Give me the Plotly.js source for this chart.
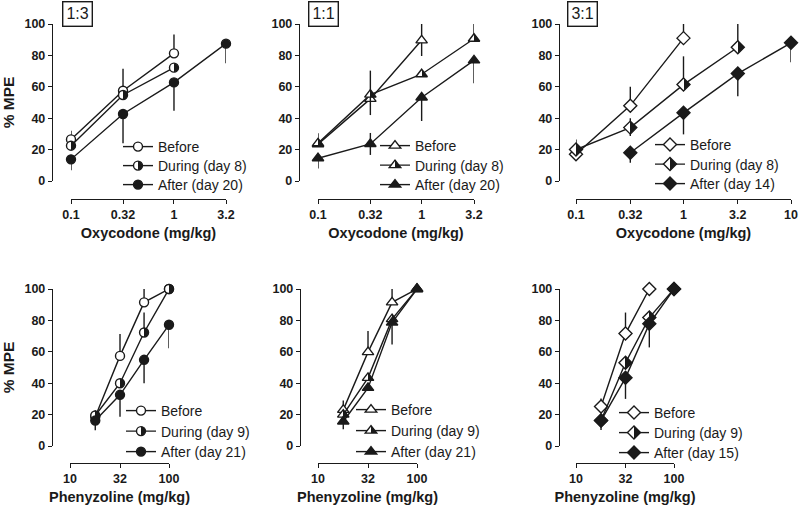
<!DOCTYPE html>
<html>
<head>
<meta charset="utf-8">
<script src="https://cdn.plot.ly/plotly-3.0.1.min.js"></script>
<style>
  body { margin: 0; background: #fff; }
  #chart { width: 800px; height: 508px; }
</style>
</head>
<body>
<div id="chart"></div>
<script>
// doses
var oxyTicks = [0.1, 0.32, 1, 3.2, 10];
var oxyTickText = ['0.1', '0.32', '1', '3.2', '10'];
var phenTicks = [10, 32, 100];
var phenTickText = ['10', '32', '100'];
var oxyDoses = [0.1, 0.32, 1, 3.2];
var oxyDoses31 = [0.1, 0.32, 1, 3.2, 10];
var phenDoses = [18, 32, 56, 100];

// 1:3 oxycodone
var before13 = [26.5, 57.5, 81.3];
var before13Up = [5.5, 14, 12];
var during13 = [22.5, 54.8, 72.2];
var after13 = [13.8, 42.7, 62.8, 87.5];
var after13Down = [7, 18.7, 18, 12.5];

// 1:1 oxycodone
var before11 = [23.4, 52.3, 89.6];
var before11Up = [7, 18, 10.4];
var before11Down = [0, 0, 10];
var during11 = [24, 55, 68, 90.6];
var during11Up = [0, 0, 0, 9.4];
var during11Down = [0, 13, 0, 0];
var after11 = [14.5, 23.6, 53.2, 76.8];
var after11Up = [0, 7, 0, 0];
var after11Down = [6.5, 7, 15, 14.5];

// 3:1 oxycodone
var before31 = [17, 48, 91];
var before31Up = [9.5, 12, 9];
var during31 = [20, 34, 61.4, 85.2];
var during31Up = [0, 6, 18, 14.8];
var during31Down = [0, 5.4, 0, 0];
var after31 = [18, 43.4, 68.4, 88];
var after31Down = [6.4, 13.7, 14.4, 12.4];

// 1:3 phenyzoline
var before13p = [18.7, 57.4, 91.5, 100];
var before13pUp = [4, 14, 8.5, 0];
var during13p = [19.4, 40, 72.3, 100];
var during13pUp = [0, 0, 12.7, 0];
var after13p = [16.2, 32.6, 54.9, 77.2];
var after13pDown = [6.2, 14, 15, 15];

// 1:1 phenyzoline
var before11p = [23, 59.8, 91.5, 100];
var before11pUp = [6, 13.5, 8.5, 0];
var during11p = [20, 43.4, 80.8, 100];
var after11p = [15.6, 37, 78.6, 100];
var after11pDown = [5, 0, 14, 0];

// 3:1 phenyzoline
var before31p = [25.2, 71.6, 100];
var before31pUp = [5, 13.4, 0];
var during31p = [16.2, 53, 81.8, 100];
var after31p = [16.2, 43.4, 77.8, 100];
var after31pDown = [6, 13.4, 15, 0];

var W = 800, H = 508;
var ink = '#1a1a1a';
var fontFam = 'Liberation Sans, Arial, sans-serif';

function zeros(n) {
    var a = [];
    for (var i = 0; i < n; i++) a.push(0);
    return a;
}

var legendCount = 0;

function makeTrace(x, y, up, down, name, symbol, fill, n) {
    var marker = {
        symbol: symbol,
        size: symbol == 'circle' ? 9 : 10,
        color: fill == 'open' ? 'white' : ink,
        line: { color: ink, width: 1.4 }
    };
    if (fill == 'half') {
        marker.color = 'white';
        marker.gradient = { type: 'horizontal', color: ink };
    }
    legendCount++;
    return {
        x: x.slice(0, y.length),
        y: y,
        name: name,
        mode: 'lines+markers',
        line: { color: ink, width: 1.4 },
        marker: marker,
        cliponaxis: false,
        error_y: {
            type: 'data',
            symmetric: false,
            array: up || zeros(y.length),
            arrayminus: down || zeros(y.length),
            width: 0,
            thickness: 1.4,
            color: ink
        },
        xaxis: 'x' + n,
        yaxis: 'y' + n,
        // one legend per entry so the rows can be placed exactly
        legend: legendCount == 1 ? 'legend' : 'legend' + legendCount
    };
}

var data = [
    makeTrace(oxyDoses, before13, before13Up, null, 'Before', 'circle', 'open', 1),
    makeTrace(oxyDoses, during13, null, null, 'During (day 8)', 'circle', 'half', 1),
    makeTrace(oxyDoses, after13, null, after13Down, 'After (day 20)', 'circle', 'full', 1),

    makeTrace(oxyDoses, before11, before11Up, before11Down, 'Before', 'triangle-up', 'open', 2),
    makeTrace(oxyDoses, during11, during11Up, during11Down, 'During (day 8)', 'triangle-up', 'half', 2),
    makeTrace(oxyDoses, after11, after11Up, after11Down, 'After (day 20)', 'triangle-up', 'full', 2),

    makeTrace(oxyDoses31, before31, before31Up, null, 'Before', 'diamond', 'open', 3),
    makeTrace(oxyDoses31, during31, during31Up, during31Down, 'During (day 8)', 'diamond', 'half', 3),
    makeTrace(oxyDoses31.slice(1), after31, null, after31Down, 'After (day 14)', 'diamond', 'full', 3),

    makeTrace(phenDoses, before13p, before13pUp, null, 'Before', 'circle', 'open', 4),
    makeTrace(phenDoses, during13p, during13pUp, null, 'During (day 9)', 'circle', 'half', 4),
    makeTrace(phenDoses, after13p, null, after13pDown, 'After (day 21)', 'circle', 'full', 4),

    makeTrace(phenDoses, before11p, before11pUp, null, 'Before', 'triangle-up', 'open', 5),
    makeTrace(phenDoses, during11p, null, null, 'During (day 9)', 'triangle-up', 'half', 5),
    makeTrace(phenDoses, after11p, null, after11pDown, 'After (day 21)', 'triangle-up', 'full', 5),

    makeTrace(phenDoses, before31p, before31pUp, null, 'Before', 'diamond', 'open', 6),
    makeTrace(phenDoses, during31p, null, null, 'During (day 9)', 'diamond', 'half', 6),
    makeTrace(phenDoses, after31p, null, after31pDown, 'After (day 15)', 'diamond', 'full', 6)
];

// panel boxes in pixels: x0, x1 (plot), yTop, yBottom, y axis x, x axis y
var panels = [
    { x0: 71, x1: 226, top: 24, bot: 181, yax: 52, xax: 199, range: [0.1, 3.2], ticks: oxyTicks, text: oxyTickText, title: 'Oxycodone (mg/kg)', ytitle: true },
    { x0: 318, x1: 474, top: 24, bot: 181, yax: 299, xax: 199, range: [0.1, 3.2], ticks: oxyTicks, text: oxyTickText, title: 'Oxycodone (mg/kg)' },
    { x0: 576, x1: 791, top: 24, bot: 181, yax: 559, xax: 199, range: [0.1, 10], ticks: oxyTicks, text: oxyTickText, title: 'Oxycodone (mg/kg)' },
    { x0: 70, x1: 169, top: 289, bot: 446, yax: 52, xax: 463, range: [10, 100], ticks: phenTicks, text: phenTickText, title: 'Phenyzoline (mg/kg)', ytitle: true },
    { x0: 318, x1: 417, top: 289, bot: 446, yax: 300, xax: 463, range: [10, 100], ticks: phenTicks, text: phenTickText, title: 'Phenyzoline (mg/kg)' },
    { x0: 576, x1: 674, top: 289, bot: 446, yax: 559, xax: 463, range: [10, 100], ticks: phenTicks, text: phenTickText, title: 'Phenyzoline (mg/kg)' }
];

// legend text start x, first row centre y, row step
var legendPos = [
    { x: 160, y: 147, step: 19 }, { x: 417, y: 146, step: 19.5 }, { x: 692, y: 145, step: 19.5 },
    { x: 163, y: 411, step: 20.5 }, { x: 393, y: 410, step: 21 }, { x: 656, y: 413, step: 20 }
];

var tickFont = { family: fontFam, size: 12.5, color: ink, weight: 'bold' };
var titleFont = { family: fontFam, size: 14.5, color: ink, weight: 'bold' };

var layout = {
    width: W,
    height: H,
    margin: { l: 0, r: 0, t: 0, b: 0 },
    paper_bgcolor: 'white',
    plot_bgcolor: 'white',
    showlegend: true,
    font: { family: fontFam, color: ink },
    annotations: []
};

panels.forEach(function (p, i) {
    var n = i + 1;
    var xa = n == 1 ? 'xaxis' : 'xaxis' + n;
    var ya = n == 1 ? 'yaxis' : 'yaxis' + n;
    layout[xa] = {
        type: 'log',
        domain: [p.x0 / W, p.x1 / W],
        range: [Math.log10(p.range[0]), Math.log10(p.range[1])],
        anchor: 'free',
        position: 1 - p.xax / H,
        tickvals: p.ticks,
        ticktext: p.text,
        ticks: 'outside',
        ticklen: 4,
        tickwidth: 1.4,
        tickcolor: ink,
        showline: true,
        linecolor: ink,
        linewidth: 1.4,
        showgrid: false,
        zeroline: false,
        tickfont: tickFont,
        title: { text: p.title, font: titleFont, standoff: 6 }
    };
    layout[ya] = {
        domain: [1 - p.bot / H, 1 - p.top / H],
        range: [0, 100],
        dtick: 20,
        anchor: 'free',
        position: p.yax / W,
        ticks: 'outside',
        ticklen: 4,
        tickwidth: 1.4,
        tickcolor: ink,
        showline: true,
        linecolor: ink,
        linewidth: 1.4,
        showgrid: false,
        zeroline: false,
        tickfont: tickFont,
        title: p.ytitle ? { text: '% MPE', font: { family: fontFam, size: 15.5, color: ink, weight: 'bold' }, standoff: 5 } : { text: '' }
    };
    for (var k = 0; k < 3; k++) {
        var idx = i * 3 + k + 1;
        var lg = idx == 1 ? 'legend' : 'legend' + idx;
        layout[lg] = {
            x: (legendPos[i].x - 42) / W,
            y: 1 - (legendPos[i].y + k * legendPos[i].step) / H,
            xanchor: 'left',
            yanchor: 'middle',
            bgcolor: 'rgba(0,0,0,0)',
            font: { family: fontFam, size: 14, color: ink },
            itemwidth: 30
        };
    }
});

var ratios = ['1:3', '1:1', '3:1'];
var ratioX = [77, 323, 582];
ratios.forEach(function (r, i) {
    layout.annotations.push({
        text: r,
        xref: 'paper',
        yref: 'paper',
        x: ratioX[i] / W,
        y: 1 - 14 / H,
        xanchor: 'center',
        yanchor: 'middle',
        showarrow: false,
        font: { family: fontFam, size: 16, color: ink },
        bordercolor: ink,
        borderwidth: 1.4,
        borderpad: 3
    });
});

// turn the smooth marker gradient into a hard white/black split (half-filled symbols)
function halfFill(gd) {
    var grads = gd.querySelectorAll('linearGradient');
    grads.forEach(function (g) {
        g.setAttribute('x1', '0');
        g.setAttribute('x2', '1');
        g.setAttribute('y1', '0');
        g.setAttribute('y2', '0');
        while (g.firstChild) g.removeChild(g.firstChild);
        [[0, '#ffffff'], [0.5, '#ffffff'], [0.5, ink], [1, ink]].forEach(function (s) {
            var st = document.createElementNS('http://www.w3.org/2000/svg', 'stop');
            st.setAttribute('offset', s[0]);
            st.setAttribute('stop-color', s[1]);
            g.appendChild(st);
        });
    });
}

Plotly.newPlot('chart', data, layout, { displayModeBar: false }).then(halfFill);
</script>
</body>
</html>
